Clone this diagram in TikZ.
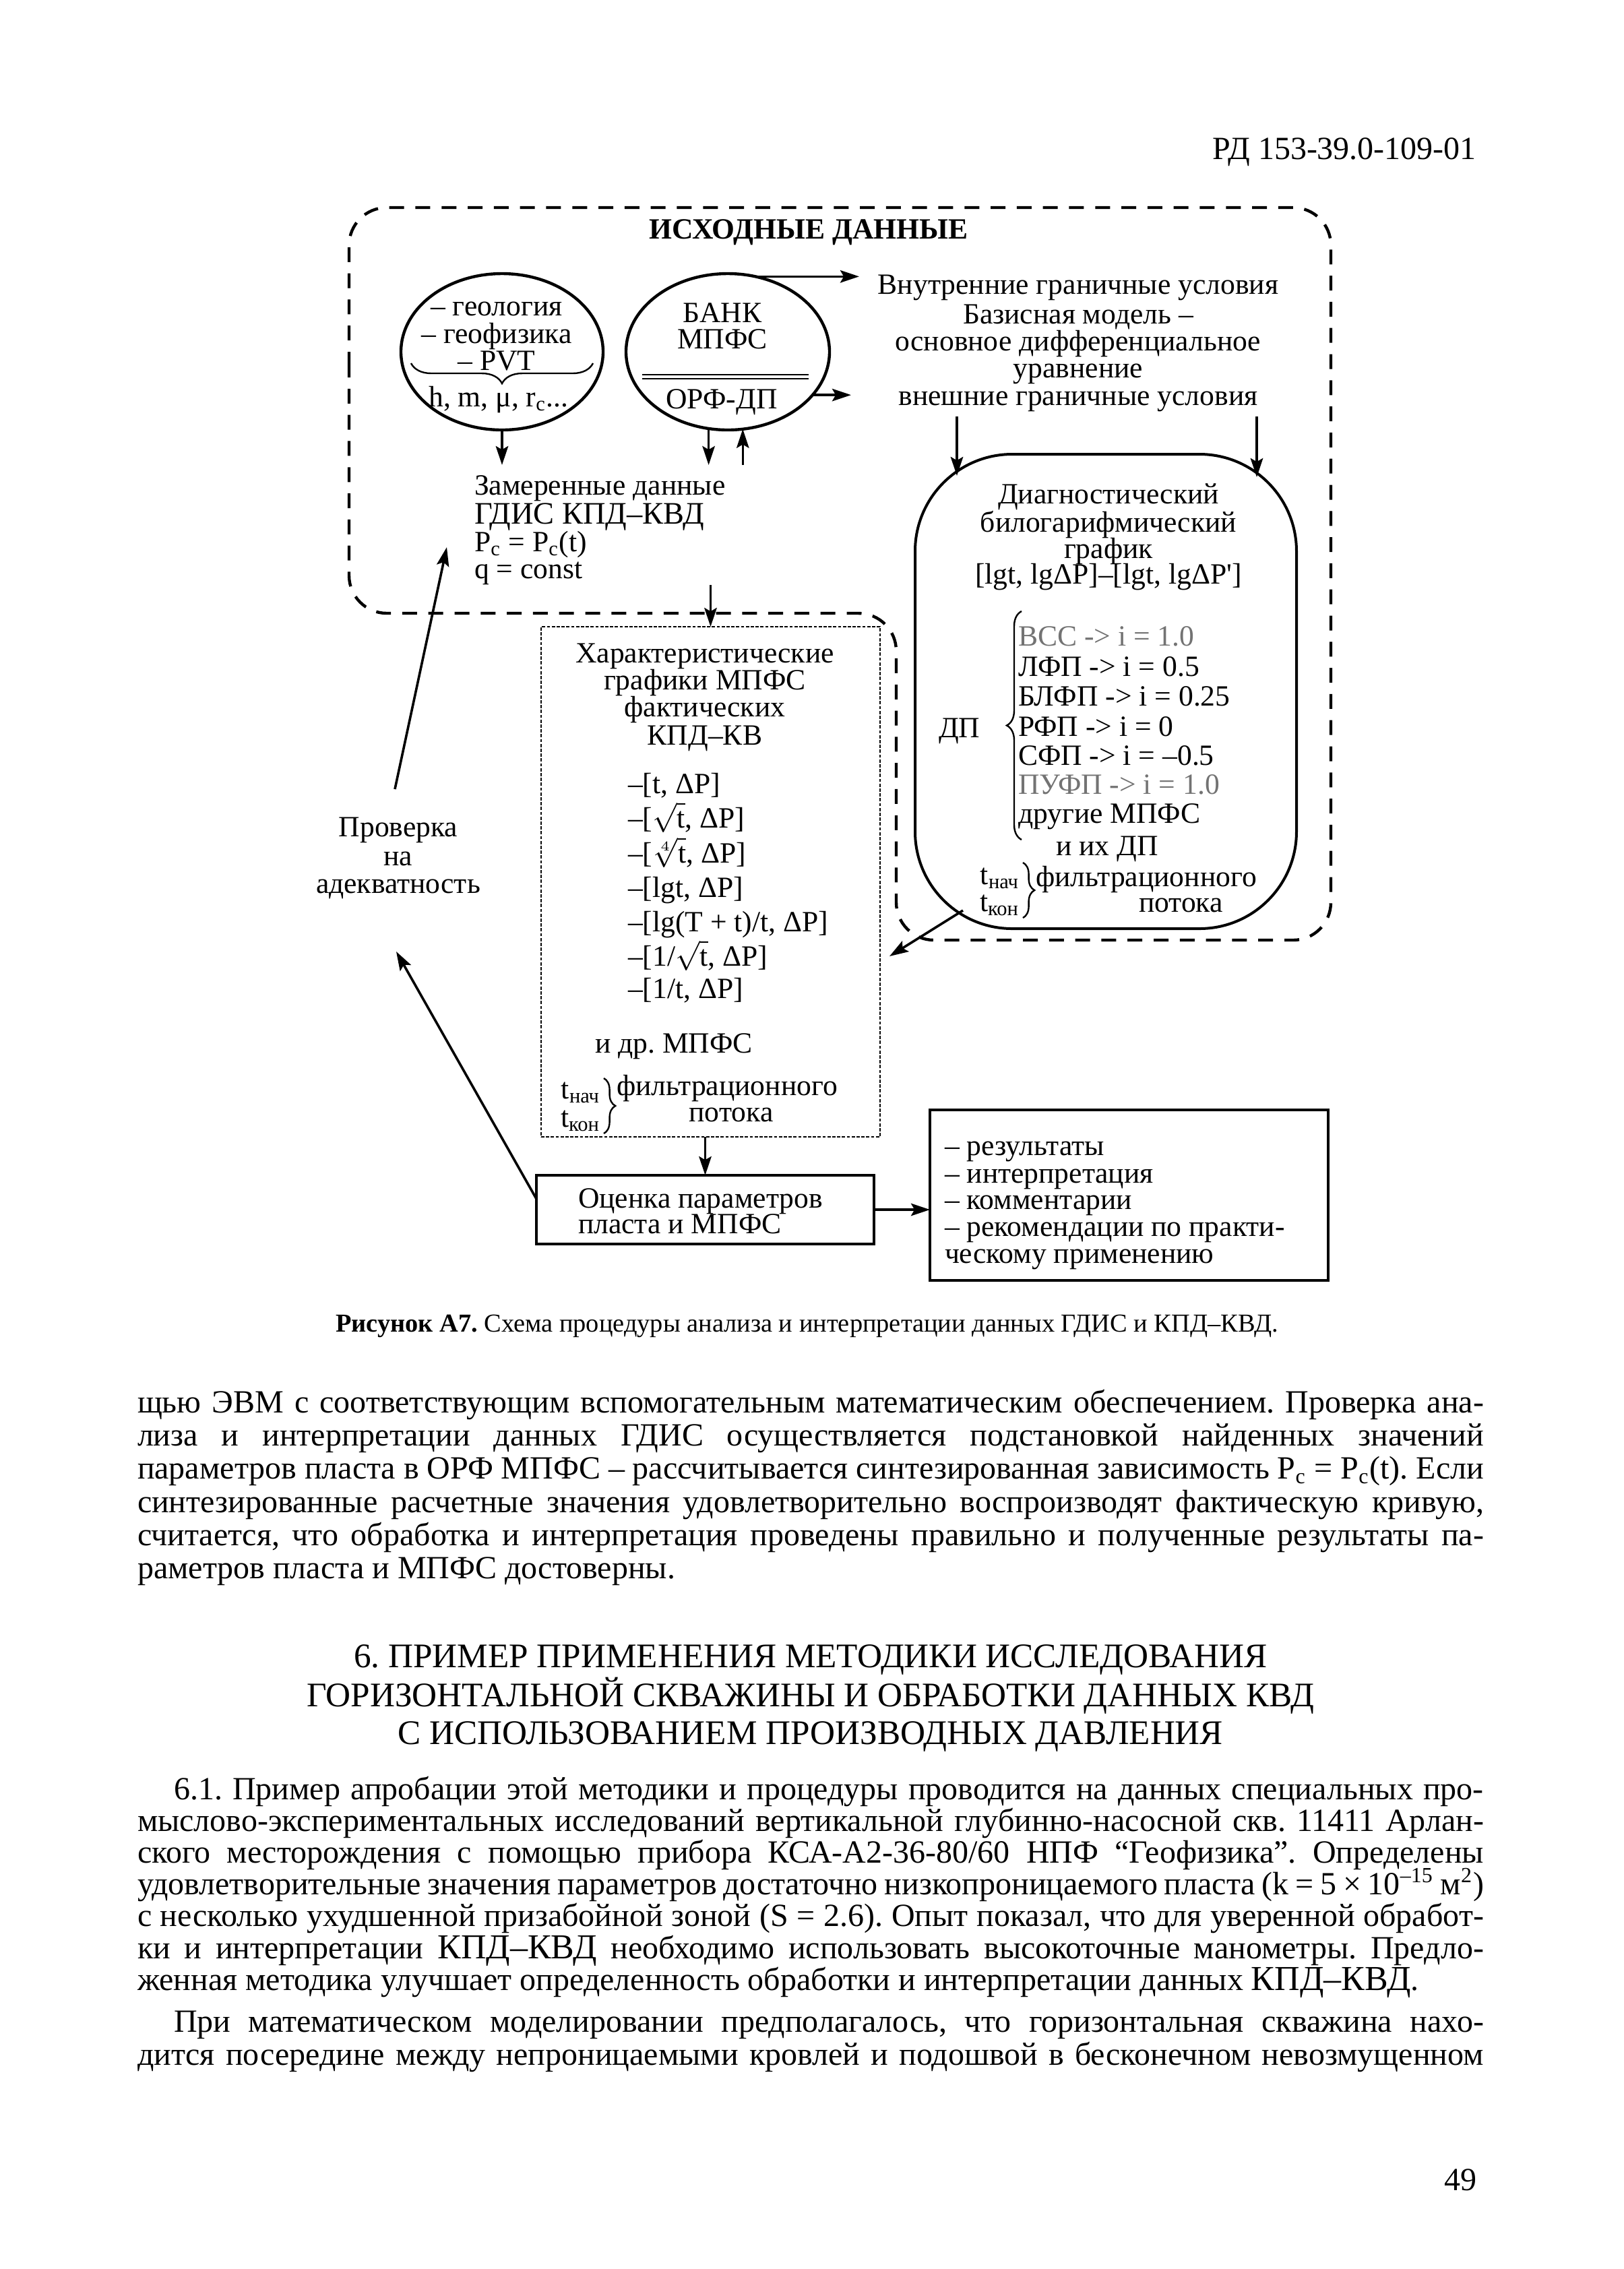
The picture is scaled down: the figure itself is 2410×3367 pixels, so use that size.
\documentclass[tikz,border=0pt]{standalone}
\usepackage{fontspec}
\setmainfont{Liberation Serif}
\usetikzlibrary{arrows.meta,shapes.geometric,decorations.pathreplacing}
\frenchspacing
\newcommand{\dgf}{\fontsize{10.9}{10}\selectfont}
\newcommand{\bdf}{\fontsize{12}{12.5}\selectfont}
\newcommand{\jl}[2]{\makebox[#1][s]{#2}}
\newcommand{\kk}{{\fontsize{13}{12.5}\selectfont КПД–КВД}}
\begin{document}
\begin{tikzpicture}[x=0.25pt,y=-0.25pt,
  every node/.style={inner sep=0pt,outer sep=0pt},
  dgc/.style={anchor=base,font=\dgf},
  dgl/.style={anchor=base west,font=\dgf},
  body/.style={anchor=base west,font=\bdf},
  arr/.style={line width=0.9pt,-{Stealth[length=7pt,width=4.6pt,inset=1.3pt]}},
  dashbox/.style={line width=1.1pt,dash pattern=on 5.5pt off 4.2pt,rounded corners=14pt},
  brc/.style={line width=0.6pt,decorate,decoration={brace,amplitude=#1}},
  lite/.style={text=black!55}]
\fill[white] (0,0) rectangle (2410,3367);
\useasboundingbox (0,0) rectangle (2410,3367);

% header
\node[anchor=base east,font=\fontsize{12}{12}\selectfont] (hdr) at (2191,236) {РД 153-39.0-109-01};

% outer dashed region
\draw[dashbox] (518,600) -- (518,308) -- (1975,308) -- (1975,1395) -- (1330,1395) -- (1330,910) -- (518,910) -- cycle;
\node[anchor=base,font=\dgf\bfseries] (title) at (1200,354) {ИСХОДНЫЕ ДАННЫЕ};

% left ellipse
\node[ellipse,draw,line width=1.1pt,minimum width=75pt,minimum height=58pt] (geo) at (745,522) {};
\node[dgc] (g1) at (737,468) {– геология};
\node[dgc] (g2) at (737,509) {– геофизика};
\node[dgc] (g3) at (737,549) {– PVT};
\draw[brc=7.5pt] (880,539) -- (610,539);
\node[dgc] (g4) at (740,603) {h, m, μ, r\textsubscript{c}...};

% bank ellipse
\node[ellipse,draw,line width=1.1pt,minimum width=75.5pt,minimum height=58pt] (bank) at (1080,522) {};
\node[dgc] (b1) at (1072,478) {БАНК};
\node[dgc] (b2) at (1072,517) {МПФС};
\draw[line width=0.7pt] (953,556) -- (1200,556);
\draw[line width=0.6pt] (953,562) -- (1200,562);
\node[dgc] (b3) at (1071,606) {ОРФ-ДП};

% measured data
\node[dgl] (z1) at (704,734) {Замеренные данные};
\node[anchor=base west,font=\fontsize{11.6}{10}\selectfont] (z2) at (704,777) {ГДИС КПД–КВД};
\node[dgl] (z3) at (704,818) {P\textsubscript{c} = P\textsubscript{c}(t)};
\node[dgl] (z4) at (704,858) {q = const};
\coordinate (zt) at (745,690);

% right text block
\node[dgc] (r1) at (1600,436) {Внутренние граничные условия};
\node[dgc] (r2) at (1600,480) {Базисная модель –};
\node[dgc] (r3) at (1600,520) {основное дифференциальное};
\node[dgc] (r4) at (1600,560) {уравнение};
\node[dgc] (r5) at (1600,601) {внешние граничные условия};
\coordinate (inn) at (1275,408);
\coordinate (outb) at (1263,586);

\draw[arr] (bank.70) -- (inn |- bank.70);
\draw[arr] (bank.-27) -- (outb |- bank.-27);
\draw[arr] (geo.south) -- (geo.south |- zt);
\draw[arr] (bank.-104) -- (bank.-104 |- zt);
\draw[arr] (bank.-79 |- zt) -- (bank.-79);

% diagnostic box
\node[draw,line width=1pt,rounded corners=36pt,minimum width=141.5pt,minimum height=176pt] (diag) at (1641,1026) {};
\coordinate (d1s) at (1420,618);
\coordinate (d1e) at (1420,706);
\coordinate (d2s) at (1865,618);
\coordinate (d2e) at (1865,708);
\draw[arr] (d1s) -- (d1e);
\draw[arr] (d2s) -- (d2e);
\node[dgc] (dg1) at (1645,747) {Диагностический};
\node[dgc] (dg2) at (1645,789) {билогарифмический};
\node[dgc] (dg3) at (1645,828) {график};
\node[dgc] (dg4) at (1645,866) {[lgt, lgΔP]–[lgt, lgΔP\textquotesingle]};
\draw[brc=5.5pt] (1516,1246) -- (1516,907);
\node[dgl] (dp) at (1393,1094) {ДП};
\node[dgl,lite] (p1) at (1511,958) {ВСС -> i = 1.0};
\node[dgl] (p2) at (1511,1003) {ЛФП -> i = 0.5};
\node[dgl] (p3) at (1511,1047) {БЛФП -> i = 0.25};
\node[dgl] (p4) at (1511,1092) {РФП -> i = 0};
\node[dgl] (p5) at (1511,1135) {СФП -> i = –0.5};
\node[dgl,lite] (p6) at (1511,1178) {ПУФП -> i = 1.0};
\node[dgl] (p7) at (1511,1221) {другие МПФС};
\node[dgc] (p8) at (1643,1269) {и их ДП};
\node[anchor=base east,font=\dgf] (dt1) at (1513,1312) {t\textsubscript{нач}};
\node[anchor=base east,font=\dgf] (dt2) at (1513,1352) {t\textsubscript{кон}};
\draw[brc=4.3pt] (1518,1280) -- (1518,1362);
\node[dgl] (df1) at (1537,1315) {фильтрационного};
\node[dgl] (df2) at (1690,1353) {потока};

% middle box
\node[draw,line width=0.4pt,dash pattern=on 1.2pt off 0.6pt,minimum width=125.75pt,minimum height=189.25pt] (mid) at (1054.5,1308.5) {};
\coordinate (m0) at (1054.5,868);
\draw[arr] (m0) -- (mid.north);
\node[dgc] (m1) at (1046,983) {Характеристические};
\node[dgc] (m2) at (1046,1023) {графики МПФС};
\node[dgc] (m3) at (1046,1063) {фактических};
\node[dgc] (m4) at (1046,1105) {КПД–КВ};
\node[dgl] (c1) at (932,1177) {–[t, ΔP]};
\node[dgl] (c2) at (932,1228) {–[$\sqrt{\mathrm{t}}$, ΔP]};
\node[dgl] (c3) at (932,1280) {–[$\sqrt[4]{\mathrm{t}}$, ΔP]};
\node[dgl] (c4) at (932,1331) {–[lgt, ΔP]};
\node[dgl] (c5) at (932,1382) {–[lg(T + t)/t, ΔP]};
\node[dgl] (c6) at (932,1433) {–[1/$\sqrt{\mathrm{t}}$, ΔP]};
\node[dgl] (c7) at (932,1481) {–[1/t, ΔP]};
\node[dgl] (c8) at (883,1562) {и др. МПФС};
\node[anchor=base east,font=\dgf] (mt1) at (891,1630) {t\textsubscript{нач}};
\node[anchor=base east,font=\dgf] (mt2) at (891,1672) {t\textsubscript{кон}};
\draw[brc=4.3pt] (896,1600) -- (896,1682);
\node[dgl] (mf1) at (915,1625) {фильтрационного};
\node[dgc] (mf2) at (1085,1664) {потока};

\coordinate (dgo) at (1429,1351);
\coordinate (dge) at (1320,1419);
\draw[arr] (dgo) -- (dge);

% check label
\node[dgc] (v1) at (591,1241) {Проверка};
\node[dgc] (v2) at (591,1284) {на};
\node[dgc] (v3) at (591,1325) {адекватность};

% evaluation box
\node[draw,line width=1.2pt,minimum width=125.25pt,minimum height=25.5pt] (ocen) at (1046.5,1795) {};
\node[dgl] (o1) at (858,1792) {Оценка параметров};
\node[dgl] (o2) at (858,1830) {пласта и МПФС};
\draw[arr] (ocen.north |- mid.south) -- (ocen.north);

% results box
\node[draw,line width=1pt,minimum width=147.75pt,minimum height=63.25pt] (res) at (1675.5,1773.5) {};
\node[dgl] (s1) at (1402,1714) {– результаты};
\node[dgl] (s2) at (1402,1755) {– интерпретация};
\node[dgl] (s3) at (1402,1794) {– комментарии};
\node[dgl] (s4) at (1402,1834) {– рекомендации по практи-};
\node[dgl] (s5) at (1402,1874) {ческому применению};
\draw[arr] (ocen.east) -- (ocen.east -| res.west);

% feedback arrows
\coordinate (a1s) at (586,1171);
\coordinate (a1e) at (663,812);
\draw[arr] (a1s) -- (a1e);
\coordinate (a2s) at (796,1779);
\coordinate (a2e) at (588,1412);
\draw[arr] (a2s) -- (a2e);

% caption
\node[anchor=base west,font=\fontsize{9.6}{10}\selectfont] (cap) at (498,1976) {\textbf{Рисунок А7.} Схема процедуры анализа и интерпретации данных ГДИС и КПД–КВД.};

% body text
\node[body] (t1) at (204,2096) {\jl{499.5pt}{щью ЭВМ с соответствующим вспомогательным математическим обеспечением. Проверка ана-}};
\node[body] (t2) at (204,2145) {\jl{499.5pt}{лиза и интерпретации данных ГДИС осуществляется подстановкой найденных значений}};
\node[body] (t3) at (204,2194) {\jl{499.5pt}{параметров пласта в ОРФ МПФС – рассчитывается синтезированная зависимость P\textsubscript{c} = P\textsubscript{c}(t). Если}};
\node[body] (t4) at (204,2244) {\jl{499.5pt}{синтезированные расчетные значения удовлетворительно воспроизводят фактическую кривую,}};
\node[body] (t5) at (204,2293) {\jl{499.5pt}{считается, что обработка и интерпретация проведены правильно и полученные результаты па-}};
\node[body] (t6) at (204,2342) {раметров пласта и МПФС достоверны.};

\node[anchor=base,font=\fontsize{12.8}{14}\selectfont] (h1) at (1203,2474) {6. ПРИМЕР ПРИМЕНЕНИЯ МЕТОДИКИ ИССЛЕДОВАНИЯ};
\node[anchor=base,font=\fontsize{12.8}{14}\selectfont] (h2) at (1203,2532) {ГОРИЗОНТАЛЬНОЙ СКВАЖИНЫ И ОБРАБОТКИ ДАННЫХ КВД};
\node[anchor=base,font=\fontsize{12.8}{14}\selectfont] (h3) at (1203,2588) {С ИСПОЛЬЗОВАНИЕМ ПРОИЗВОДНЫХ ДАВЛЕНИЯ};

\node[body] (u1) at (258,2670) {\jl{486pt}{6.1. Пример апробации этой методики и процедуры проводится на данных специальных про-}};
\node[body] (u2) at (204,2717) {\jl{499.5pt}{мыслово-экспериментальных исследований вертикальной глубинно-насосной скв. 11411 Арлан-}};
\node[body] (u3) at (204,2764) {\jl{499.5pt}{ского месторождения с помощью прибора КСА-А2-36-80/60 НПФ “Геофизика”. Определены}};
\node[body] (u4) at (204,2811) {\jl{499.5pt}{удовлетворительные значения параметров достаточно низкопроницаемого пласта (k = 5 × 10\textsuperscript{–15} м\textsuperscript{2})}};
\node[body] (u5) at (204,2858) {\jl{499.5pt}{с несколько ухудшенной призабойной зоной (S = 2.6). Опыт показал, что для уверенной обработ-}};
\node[body] (u6) at (204,2906) {\jl{499.5pt}{ки и интерпретации \kk{} необходимо использовать высокоточные манометры. Предло-}};
\node[body] (u7) at (204,2953) {женная методика улучшает определенность обработки и интерпретации данных \kk.};

\node[body] (w1) at (258,3015) {\jl{486pt}{При математическом моделировании предполагалось, что горизонтальная скважина нахо-}};
\node[body] (w2) at (204,3064) {\jl{499.5pt}{дится посередине между непроницаемыми кровлей и подошвой в бесконечном невозмущенном}};

\node[anchor=base east,font=\bdf] (pg) at (2191,3250) {49};
\end{tikzpicture}
\end{document}
